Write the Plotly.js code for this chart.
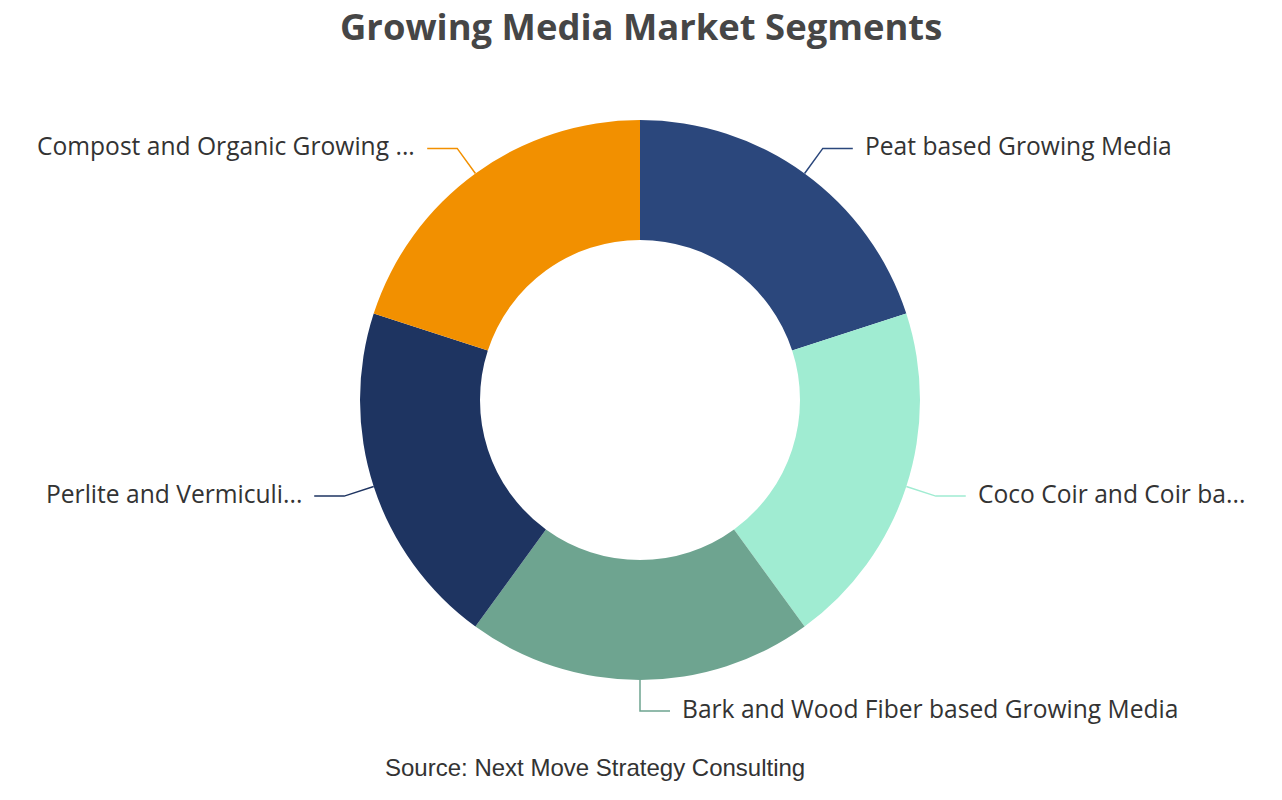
<!DOCTYPE html>
<html>
<head>
<meta charset="utf-8">
<script src="https://cdn.plot.ly/plotly-3.0.1.min.js"></script>
<style>html,body{margin:0;padding:0;background:#fff;}#chart{width:1282px;height:800px;}</style>
</head>
<body>
<div id="chart"></div>
<script>
// ---- data ----
const categories = [
  "Peat based Growing Media",
  "Coco Coir and Coir based Growing Media",
  "Bark and Wood Fiber based Growing Media",
  "Perlite and Vermiculite based Growing Media",
  "Compost and Organic Growing Media"
];
const displayLabels = [
  "Peat based Growing Media",
  "Coco Coir and Coir ba...",
  "Bark and Wood Fiber based Growing Media",
  "Perlite and Vermiculi...",
  "Compost and Organic Growing ..."
];
const values = [20, 20, 20, 20, 20];
const colors = ["#2b477c", "#a0ecd2", "#6ea490", "#1e3461", "#f29000"];

// ---- geometry of the plot area ----
const W = 1282, H = 800;
const M = {l: 0, r: 2, t: 120, b: 120};
const pw = W - M.l - M.r, ph = H - M.t - M.b;
const cx = M.l + pw / 2, cy = M.t + ph / 2;
const R = Math.min(pw, ph) / 2;
const len1 = 31, len2 = 30, gap = 10;
const px2x = px => (px - M.l) / pw;
const py2y = py => (H - M.b - py) / ph;

const total = values.reduce((a, b) => a + b, 0);
let cum = 0;
const shapes = [], annotations = [];
values.forEach((v, i) => {
  const mid = (cum + v / 2) / total * 2 * Math.PI;
  cum += v;
  const s = Math.sin(mid), c = Math.cos(mid);
  const x0 = cx + R * s, y0 = cy - R * c;
  const x1 = cx + (R + len1) * s, y1 = cy - (R + len1) * c;
  const right = s >= -1e-9;
  const dir = (Math.abs(s) < 1e-6) ? 1 : (right ? 1 : -1);
  const x2 = x1 + dir * len2;
  shapes.push({
    type: "path", xref: "paper", yref: "paper",
    path: `M ${px2x(x0)} ${py2y(y0)} L ${px2x(x1)} ${py2y(y1)} L ${px2x(x2)} ${py2y(y1)}`,
    line: {color: colors[i], width: 1.5}
  });
  annotations.push({
    xref: "paper", yref: "paper",
    x: px2x(x2 + dir * gap), y: py2y(y1 - 3),
    xanchor: dir > 0 ? "left" : "right", yanchor: "middle",
    text: displayLabels[i], showarrow: false,
    font: {family: "Open Sans, Noto Sans, sans-serif", size: 24.6, color: "#333333"}
  });
});

annotations.push({
  xref: "paper", yref: "paper", x: px2x(641), y: py2y(26),
  xanchor: "center", yanchor: "middle", showarrow: false,
  text: "<b>Growing Media Market Segments</b>",
  font: {family: "Open Sans, Noto Sans, sans-serif", size: 36.4, color: "#464646"}
});
annotations.push({
  xref: "paper", yref: "paper", x: px2x(595), y: py2y(767),
  xanchor: "center", yanchor: "middle", showarrow: false,
  text: "Source: Next Move Strategy Consulting",
  font: {family: "Liberation Sans, Arial, sans-serif", size: 24, color: "#333333"}
});

const trace = {
  type: "pie",
  labels: categories,
  values: values,
  marker: {colors: colors, line: {width: 0}},
  hole: 160 / 280,
  sort: false,
  direction: "clockwise",
  rotation: 0,
  textinfo: "none",
  hoverinfo: "label+percent"
};

const layout = {
  width: W, height: H,
  margin: M,
  showlegend: false,
  paper_bgcolor: "#ffffff",
  shapes: shapes,
  annotations: annotations
};

Plotly.newPlot("chart", [trace], layout, {displayModeBar: false, staticPlot: false});
</script>
</body>
</html>
